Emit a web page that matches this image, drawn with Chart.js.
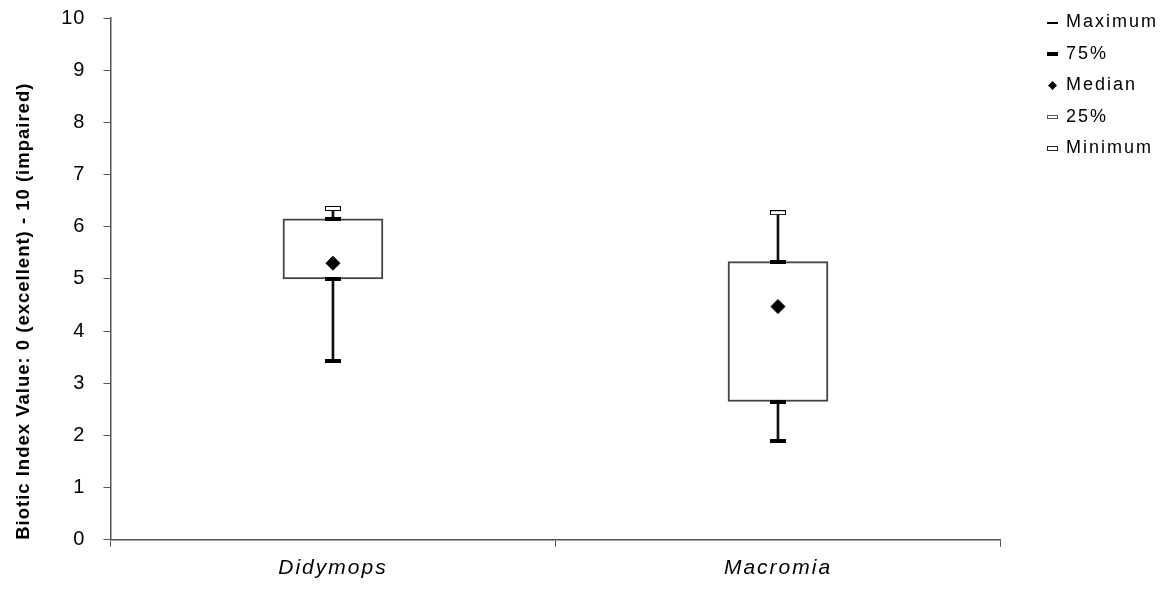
<!DOCTYPE html>
<html>
<head>
<meta charset="utf-8">
<script src="https://cdn.jsdelivr.net/npm/chart.js@4.4.0/dist/chart.umd.min.js"></script>
<style>
body { margin: 0; background: #fff; }
#wrap { width: 1165px; height: 591px; }
</style>
</head>
<body>
<div id="wrap"><canvas id="box" width="1165" height="591"></canvas></div>
<script>
// data
var categories = ["Didymops", "Macromia"];
var maximum = [6.35, 6.27];
var q3 = [6.15, 5.33];
var median = [5.3, 4.47];
var q1 = [5.0, 2.65];
var minimum = [3.43, 1.9];
var yTicks = [0, 1, 2, 3, 4, 5, 6, 7, 8, 9, 10];

// small marker images
function mark(w, h, fill, stroke) {
	var c = document.createElement("canvas");
	c.width = w; c.height = h;
	var x = c.getContext("2d");
	if (fill) { x.fillStyle = fill; x.fillRect(0, 0, w, h); }
	if (stroke) { x.strokeStyle = stroke; x.lineWidth = 1; x.strokeRect(0.5, 0.5, w - 1, h - 1); }
	return c;
}
function diamond(s) {
	var c = document.createElement("canvas");
	c.width = s; c.height = s;
	var x = c.getContext("2d");
	x.fillStyle = "#000";
	x.beginPath();
	x.moveTo(s / 2, 0); x.lineTo(s, s / 2); x.lineTo(s / 2, s); x.lineTo(0, s / 2);
	x.closePath(); x.fill();
	return c;
}
var capThick = mark(16, 4, "#000");
var capHollow = mark(16, 5, "#fff", "#000");
var legendMarks = [
	mark(11, 2, "#000"),
	mark(11, 4, "#000"),
	diamond(9),
	mark(11, 4, "#fff", "#555"),
	mark(11, 5, "#fff", "#222")
];
var legendNames = ["Maximum", "75%", "Median", "25%", "Minimum"];

function ranges(a, b) {
	var r = [];
	for (var i = 0; i < a.length; i++) r.push([a[i], b[i]]);
	return r;
}

function markerSet(label, data, style, radius) {
	return {
		type: "line", label: label, data: data, showLine: false,
		pointStyle: style, pointRadius: radius || 8,
		backgroundColor: "#000", borderColor: "#000", order: 0
	};
}

// wrap a draw function with a shift and letter spacing
function wrapDraw(obj, name, dx, dy, spacing) {
	if (obj["_w_" + name]) return;
	obj["_w_" + name] = true;
	var f = obj[name];
	obj[name] = function() {
		var c = this.ctx;
		c.save();
		c.letterSpacing = spacing;
		c.translate(dx, dy);
		f.apply(this, arguments);
		c.restore();
	};
}

// letter spacing like the original, room between plot and legend,
// and let the "10" label overhang the top of the plot
var tweaks = {
	id: "tweaks",
	beforeDraw: function(chart) {
		chart.ctx.letterSpacing = "1px";
		wrapDraw(chart.scales.x, "drawLabels", 0, 0, "2px");
	},
	beforeLayout: function(chart) {
		var y = chart.scales.y;
		if (y && !y._pp) {
			y._pp = true;
			var cp = y._calculatePadding;
			y._calculatePadding = function() {
				cp.apply(this, arguments);
				this.paddingTop = 0;
			};
		}
		var lg = chart.legend;
		if (!lg || lg._patched) return;
		lg._patched = true;
		var fit = lg.fit;
		lg.fit = function() { fit.call(this); this.width += 45; };
		wrapDraw(lg, "draw", 34, -18, "2px");
	}
};

new Chart(document.getElementById("box"), {
	type: "bar",
	data: {
		labels: categories,
		datasets: [
			{ label: "whisker", data: ranges(minimum, maximum), backgroundColor: "#111",
				barThickness: 2, grouped: false, order: 3 },
			{ label: "box", data: ranges(q1, q3), backgroundColor: "#fff", borderColor: "#444",
				borderWidth: 2, borderSkipped: false, barThickness: 100, grouped: false, order: 2 },
			markerSet("Maximum", maximum, capHollow),
			markerSet("75%", q3, capThick),
			markerSet("Median", median, "rectRot", 7),
			markerSet("25%", q1, capThick),
			markerSet("Minimum", minimum, capThick)
		]
	},
	options: {
		responsive: false,
		animation: false,
		layout: { padding: { top: 18, right: 0, left: 13, bottom: 1 } },
		plugins: {
			tooltip: { enabled: false },
			legend: {
				position: "right",
				align: "start",
				labels: {
					usePointStyle: true,
					boxWidth: 9,
					color: "#000",
					padding: 13.5,
					font: { family: "Arial, 'Liberation Sans'", size: 18 },
					generateLabels: function() {
						return legendNames.map(function(n, i) {
							return { text: n, pointStyle: legendMarks[i], fillStyle: "#000",
								strokeStyle: "#000", lineWidth: 0, fontColor: "#000", hidden: false, datasetIndex: i + 2 };
						});
					}
				}
			}
		},
		scales: {
			x: {
				offset: true,
				grid: { display: true, drawOnChartArea: false, offset: true, tickLength: 7, color: "#555" },
				border: { color: "#555", width: 1.5 },
				ticks: { color: "#000", padding: 9, font: { family: "Arial, 'Liberation Sans'", size: 21, style: "italic" } }
			},
			y: {
				min: 0, max: 10,
				afterBuildTicks: function(s) { s.ticks = yTicks.map(function(v) { return { value: v }; }); },
				grid: { display: true, drawOnChartArea: false, tickLength: 7, color: "#555" },
				border: { color: "#555", width: 1.5 },
				ticks: { color: "#000", padding: 18, font: { family: "Arial, 'Liberation Sans'", size: 20 } },
				title: {
					display: true,
					align: "start",
					text: "Biotic Index Value: 0 (excellent) - 10 (impaired)",
					color: "#000",
					padding: { top: 0, bottom: 10 },
					font: { family: "Arial, 'Liberation Sans'", size: 18.5, weight: "bold" }
				}
			}
		}
	},
	plugins: [tweaks]
});
</script>
</body>
</html>
